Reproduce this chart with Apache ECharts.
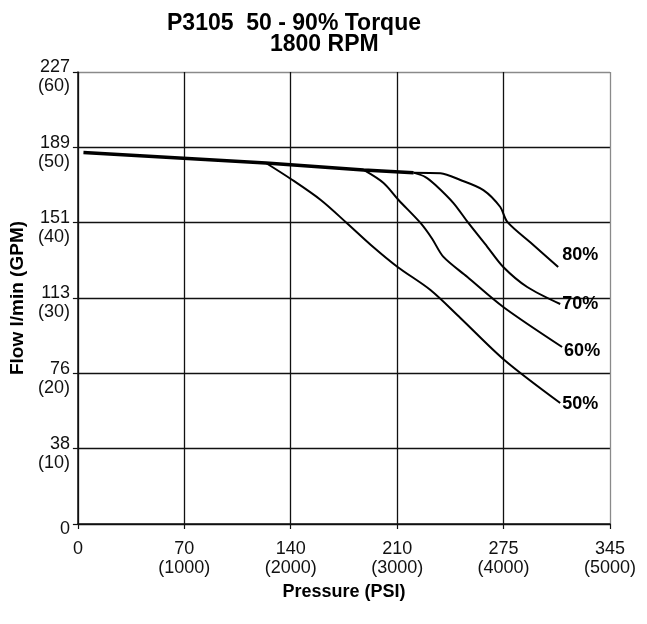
<!DOCTYPE html>
<html><head><meta charset="utf-8">
<script src="https://cdn.jsdelivr.net/npm/echarts@6/dist/echarts.min.js"></script>
<style>html,body{margin:0;padding:0;background:#fff}#c{width:647px;height:624px}</style>
</head><body><div id="c"></div>
<script>
const titleLine1 = 'P3105  50 - 90% Torque';
const titleLine2 = '1800 RPM';
const xTickTop = ['0','70','140','210','275','345'];
const xTickBottom = ['','(1000)','(2000)','(3000)','(4000)','(5000)'];
const yTickTop = ['0','38','76','113','151','189','227'];
const yTickBottom = ['','(10)','(20)','(30)','(40)','(50)','(60)'];
const seriesNames = ['50%','60%','70%','80%'];
// common (shared) portion of the curves, PSI / GPM
const commonPsi = [52, 1767, 2685, 3154];
const commonGpm = [49.3, 47.92, 47.0, 46.64];
// branches
const psi50 = [1767, 2001, 2282, 2526, 2753, 3004, 3313, 3594, 4007, 4532];
const gpm50 = [47.92, 45.8, 43.01, 39.96, 37.04, 34.12, 31.06, 27.35, 21.77, 16.06];
const psi60 = [2685, 2872, 3013, 3219, 3327, 3435, 3660, 3997, 4550];
const gpm60 = [47.0, 45.27, 43.01, 39.96, 37.9, 35.45, 32.79, 28.81, 23.5];
const psi70 = [3154, 3266, 3360, 3529, 3669, 3847, 3997, 4222, 4532];
const gpm70 = [46.64, 46.06, 45.0, 42.6, 39.96, 36.8, 34.12, 31.46, 29.2];
const psi80 = [3154, 3407, 3594, 3810, 3969, 4035, 4269, 4513];
const gpm80 = [46.64, 46.56, 45.67, 44.33, 42.08, 40.1, 37.17, 34.12];

const zip = (a, b) => a.map((v, i) => [v, b[i]]);
const branches = [[psi50, gpm50], [psi60, gpm60], [psi70, gpm70], [psi80, gpm80]];
const labelOffsets = [[0, 1], [0, 4], [0, 0], [2, -12]];

const chart = echarts.init(document.getElementById('c'), null, {renderer: 'canvas'});
const font = 'Liberation Sans, Arial, Helvetica, sans-serif';
const series = [{
  name: 'common', type: 'line', data: zip(commonPsi, commonGpm), symbol: 'none',
  lineStyle: {color: '#000', width: 3.5}, silent: true, z: 3
}];
branches.forEach((b, i) => {
  series.push({
    name: seriesNames[i], type: 'line', data: zip(b[0], b[1]), symbol: 'none',
    smooth: 0.3,
    lineStyle: {color: '#000', width: 2}, silent: true, z: 3,
    endLabel: {show: true, formatter: '{a}', color: '#000', fontFamily: font,
      fontWeight: 'bold', fontSize: 18, distance: 2, offset: labelOffsets[i]}
  });
});
chart.setOption({
  animation: false,
  backgroundColor: '#fff',
  title: [
    {text: titleLine1, left: 162, top: 7, textStyle: {fontFamily: font, fontWeight: 'bold', fontSize: 23, color: '#000'}},
    {text: titleLine2, left: 265, top: 28, textStyle: {fontFamily: font, fontWeight: 'bold', fontSize: 23, color: '#000'}}
  ],
  grid: {left: 76, right: 37, top: 72, bottom: 100},
  xAxis: {
    type: 'value', min: 0, max: 5000, interval: 1000,
    name: 'Pressure (PSI)', nameLocation: 'middle', nameGap: 57,
    nameTextStyle: {fontFamily: font, fontWeight: 'bold', fontSize: 18, color: '#000'},
    axisLine: {show: true, lineStyle: {color: '#111', width: 1.5}},
    axisTick: {show: true, length: 5, lineStyle: {color: '#111', width: 1.2}},
    splitLine: {show: true, lineStyle: {color: ['#111','#111','#111','#111','#111','#8a8a8a'], width: 1.3}},
    axisLabel: {fontFamily: font, fontSize: 18, color: '#111', lineHeight: 19, margin: 16,
      formatter: v => { const i = Math.round(v / 1000); return xTickBottom[i] ? xTickTop[i] + '\n' + xTickBottom[i] : xTickTop[i]; }}
  },
  yAxis: {
    type: 'value', min: 0, max: 60, interval: 10,
    name: 'Flow l/min (GPM)', nameLocation: 'middle', nameGap: 42,
    nameTextStyle: {fontFamily: font, fontWeight: 'bold', fontSize: 19, color: '#000'},
    axisLine: {show: true, lineStyle: {color: '#111', width: 1.5}},
    axisTick: {show: true, length: 5, lineStyle: {color: '#111', width: 1.2}},
    splitLine: {show: true, lineStyle: {color: ['#111','#111','#111','#111','#111','#111','#8a8a8a'], width: 1.3}},
    axisLabel: {fontFamily: font, fontSize: 18, color: '#111', margin: 8, verticalAlign: 'middle',
      rich: {p: {fontSize: 1, lineHeight: 10}, t: {fontFamily: font, fontSize: 18, color: '#111', lineHeight: 19, align: 'right'}},
      formatter: v => { const i = Math.round(v / 10); return yTickBottom[i] ? '{p| }\n{t|' + yTickTop[i] + '}\n{t|' + yTickBottom[i] + '}' : '{p| }\n{t|' + yTickTop[i] + '}'; }}
  },
  series: series
});
</script></body></html>
